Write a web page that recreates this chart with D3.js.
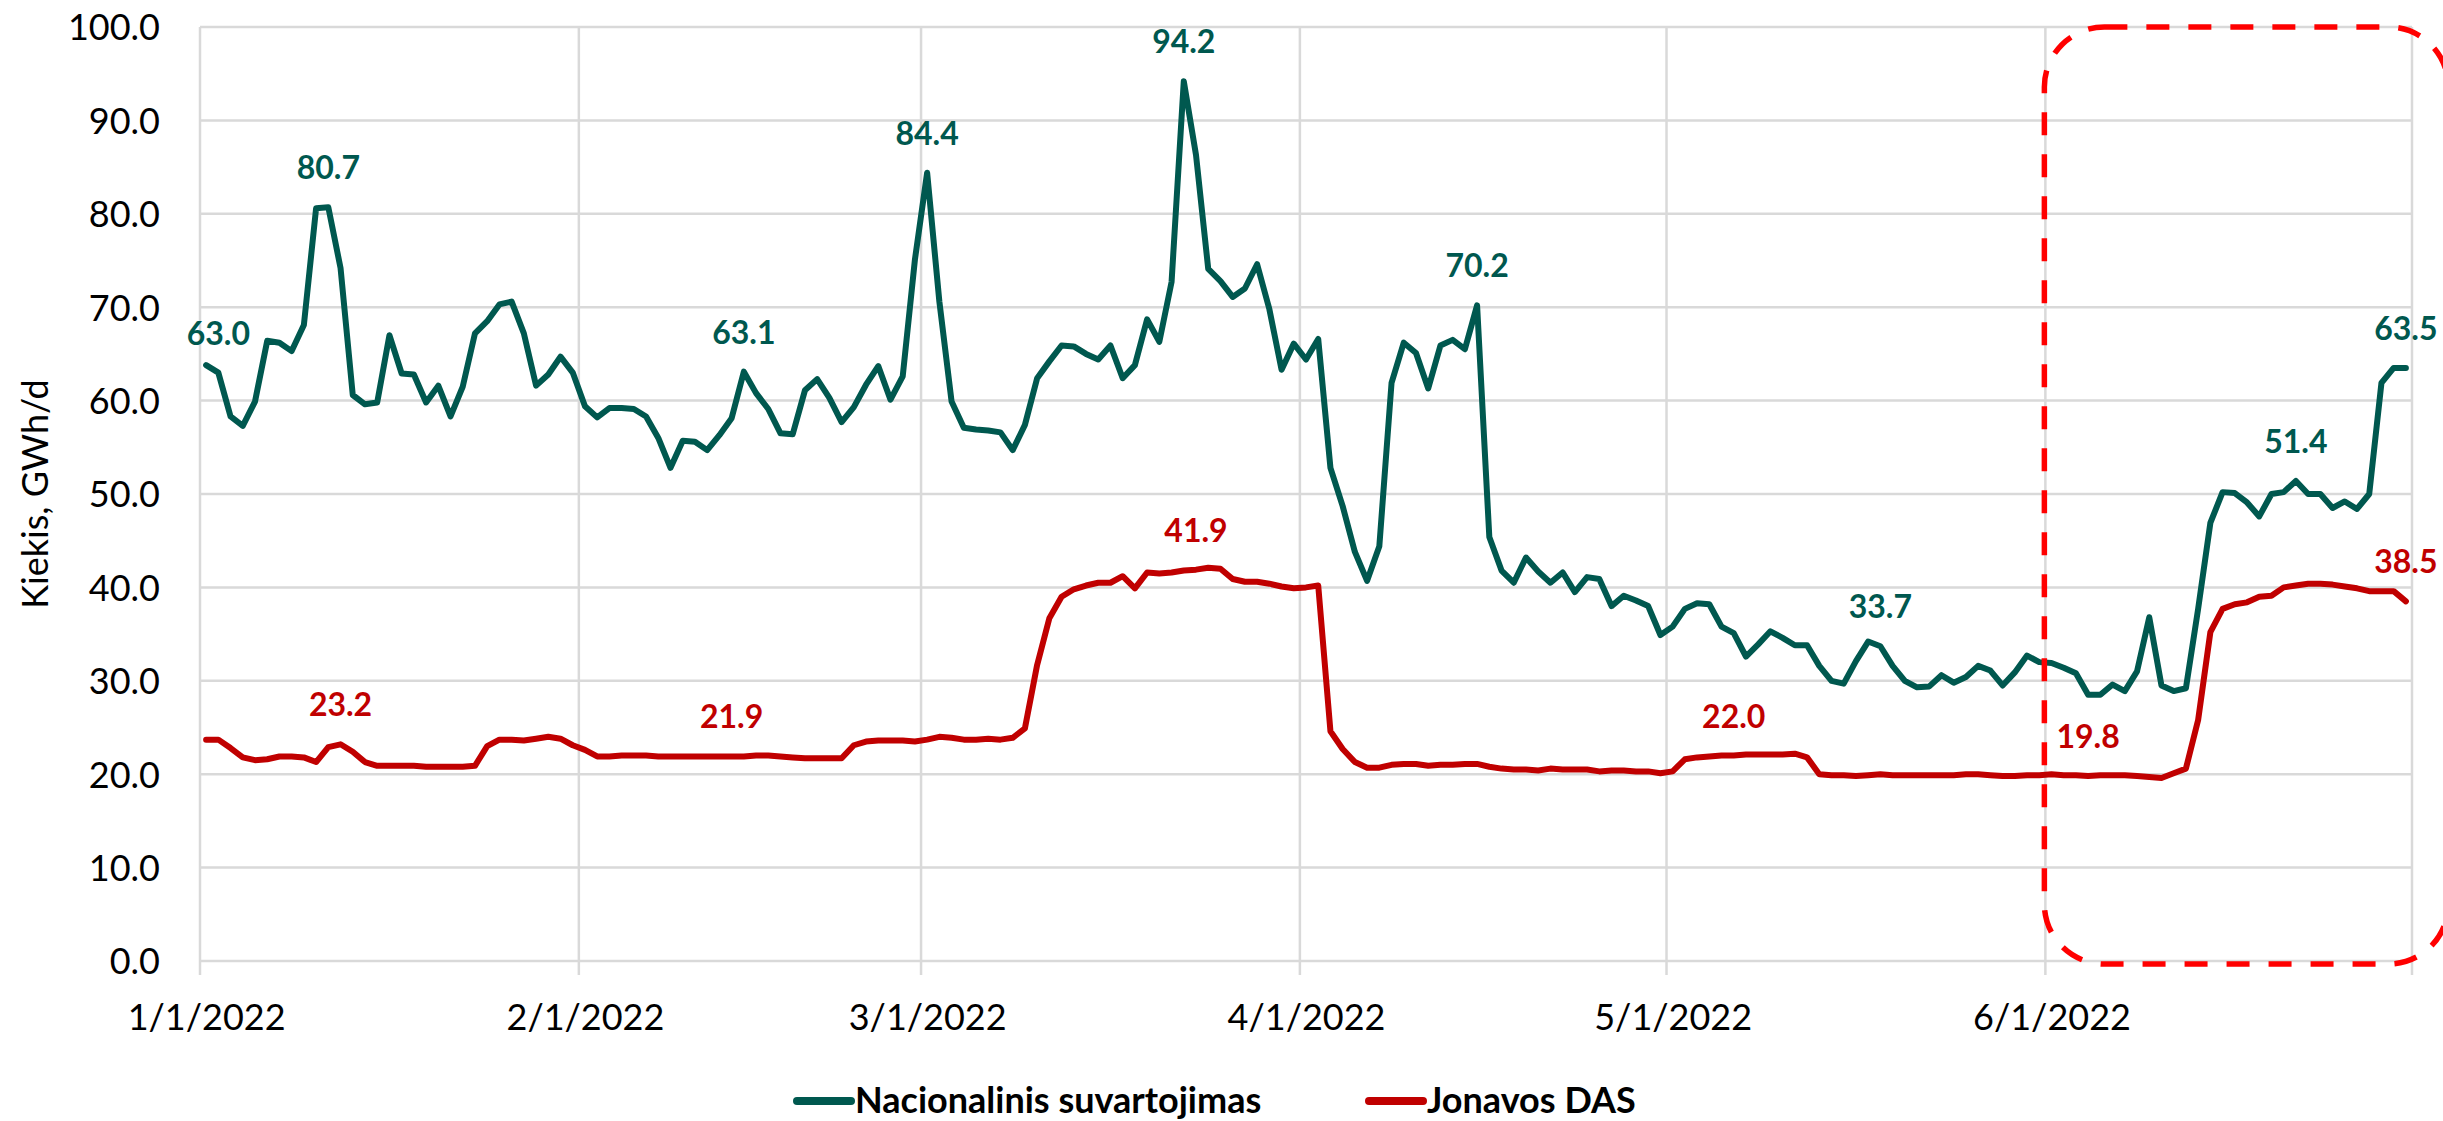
<!DOCTYPE html>
<html>
<head>
<meta charset="utf-8">
<script src="https://cdn.jsdelivr.net/npm/d3@7"></script>
<style>
body { margin: 0; background: #fff; }
text { font-family: Lato, "Open Sans", sans-serif; }
</style>
</head>
<body>
<svg id="chart" width="2443" height="1121"></svg>
<script>
// daily values, 2022-01-01 .. 2022-06-30
var firstDay = "2022-01-01";
var lastDay = "2022-07-01";

var nacionalinis = [
    63.8, 63.0, 58.3, 57.3, 59.9, 66.4, 66.2, 65.3, 68.1, 80.6, 80.7, 74.2, 60.6, 59.6, 59.8, 67.0,
    62.9, 62.8, 59.8, 61.6, 58.3, 61.5, 67.2, 68.5, 70.3, 70.6, 67.2, 61.6, 62.8, 64.7, 63.0,
    59.4, 58.2, 59.2, 59.2, 59.1, 58.3, 56.0, 52.8, 55.7, 55.6, 54.7, 56.3, 58.1, 63.1, 60.8,
    59.1, 56.5, 56.4, 61.1, 62.3, 60.3, 57.7, 59.3, 61.7, 63.7, 60.1, 62.6, 75.1,
    84.4, 70.6, 59.9, 57.1, 56.9, 56.8, 56.6, 54.7, 57.4, 62.4, 64.2, 65.9, 65.8, 65.0, 64.4,
    65.9, 62.4, 63.8, 68.7, 66.3, 72.7, 94.2, 86.3, 74.1, 72.8, 71.1, 72.0, 74.6, 69.8, 63.3, 66.1,
    64.4, 66.6, 52.8, 48.7, 43.8, 40.7, 44.4, 61.9, 66.2, 65.1, 61.3, 65.9, 66.5, 65.5, 70.2,
    45.4, 41.8, 40.5, 43.2, 41.7, 40.5, 41.6, 39.5, 41.1, 40.9, 38.0, 39.1, 38.6, 38.0, 34.9,
    35.8, 37.7, 38.3, 38.2, 35.8, 35.1, 32.6, 33.9, 35.3, 34.6, 33.8, 33.8, 31.6, 30.0, 29.7,
    32.1, 34.2, 33.7, 31.6, 30.0, 29.3, 29.4, 30.6, 29.8, 30.4, 31.6, 31.1, 29.5, 30.9, 32.7, 32.0,
    31.9, 31.4, 30.8, 28.5, 28.5, 29.6, 28.9, 31.0, 36.8, 29.5, 28.9, 29.2, 37.7, 46.9, 50.2,
    50.1, 49.1, 47.6, 50.0, 50.2, 51.4, 50.0, 50.0, 48.5, 49.2, 48.4, 50.0, 61.9, 63.5, 63.5
];

var jonavos = [
    23.7, 23.7, 22.8, 21.8, 21.5, 21.6, 21.9, 21.9, 21.8, 21.3, 22.9, 23.2, 22.4, 21.3, 20.9, 20.9,
    20.9, 20.9, 20.8, 20.8, 20.8, 20.8, 20.9, 23.0, 23.7, 23.7, 23.6, 23.8, 24.0, 23.8, 23.1,
    22.6, 21.9, 21.9, 22.0, 22.0, 22.0, 21.9, 21.9, 21.9, 21.9, 21.9, 21.9, 21.9, 21.9, 22.0,
    22.0, 21.9, 21.8, 21.7, 21.7, 21.7, 21.7, 23.1, 23.5, 23.6, 23.6, 23.6, 23.5,
    23.7, 24.0, 23.9, 23.7, 23.7, 23.8, 23.7, 23.9, 24.9, 31.7, 36.7, 39.0, 39.8, 40.2, 40.5,
    40.5, 41.2, 39.9, 41.6, 41.5, 41.6, 41.8, 41.9, 42.1, 42.0, 40.9, 40.6, 40.6, 40.4, 40.1, 39.9,
    40.0, 40.2, 24.6, 22.7, 21.3, 20.7, 20.7, 21.0, 21.1, 21.1, 20.9, 21.0, 21.0, 21.1, 21.1,
    20.8, 20.6, 20.5, 20.5, 20.4, 20.6, 20.5, 20.5, 20.5, 20.3, 20.4, 20.4, 20.3, 20.3, 20.1,
    20.3, 21.6, 21.8, 21.9, 22.0, 22.0, 22.1, 22.1, 22.1, 22.1, 22.2, 21.8, 20.0, 19.9, 19.9,
    19.8, 19.9, 20.0, 19.9, 19.9, 19.9, 19.9, 19.9, 19.9, 20.0, 20.0, 19.9, 19.8, 19.8, 19.9, 19.9,
    20.0, 19.9, 19.9, 19.8, 19.9, 19.9, 19.9, 19.8, 19.7, 19.6, 20.1, 20.6, 25.8, 35.2, 37.7,
    38.2, 38.4, 39.0, 39.1, 40.0, 40.2, 40.4, 40.4, 40.3, 40.1, 39.9, 39.6, 39.6, 39.6, 38.5
];

// day indexes that carry a data label
var nacionalinisLabels = [1, 10, 44, 59, 80, 104, 137, 171, 180];
var jonavosLabels = [11, 43, 81, 125, 154, 180];

var monthStarts = ["2022-01-01", "2022-02-01", "2022-03-01", "2022-04-01", "2022-05-01", "2022-06-01", "2022-07-01"];
var xTickLabels = ["2022-01-01", "2022-02-01", "2022-03-01", "2022-04-01", "2022-05-01", "2022-06-01"];
var yTicks = [0, 10, 20, 30, 40, 50, 60, 70, 80, 90, 100];
var highlightFrom = "2022-06-01";

var seriesNames = ["Nacionalinis suvartojimas", "Jonavos DAS"];
var seriesColors = ["#00584f", "#c00000"];

var parse = d3.utcParse("%Y-%m-%d");
var start = parse(firstDay);
function dayCenter(i) {
    return d3.utcHour.offset(d3.utcDay.offset(start, i), 12);
}

var plotLeft = 200, plotRight = 2412, plotTop = 27, plotBottom = 961;

var svg = d3.select("#chart");

var x = d3.scaleUtc()
    .domain([start, parse(lastDay)])
    .range([plotLeft, plotRight]);
var y = d3.scaleLinear()
    .domain([0, 100])
    .range([plotBottom, plotTop]);

// grid
var grid = svg.append("g").attr("class", "grid");
grid.selectAll("line.h")
    .data(yTicks)
    .enter().append("line")
    .attr("class", "h")
    .attr("x1", plotLeft).attr("x2", plotRight)
    .attr("y1", function (d) { return y(d); })
    .attr("y2", function (d) { return y(d); })
    .style("stroke", "#d9d9d9")
    .style("stroke-width", 2.5);
grid.selectAll("line.v")
    .data(monthStarts)
    .enter().append("line")
    .attr("class", "v")
    .attr("x1", function (d) { return x(parse(d)); })
    .attr("x2", function (d) { return x(parse(d)); })
    .attr("y1", plotTop).attr("y2", plotBottom + 14)
    .style("stroke", "#d9d9d9")
    .style("stroke-width", 2.5);

// axes (labels only)
var yAxis = svg.append("g")
    .attr("transform", "translate(" + plotLeft + ",0)")
    .call(d3.axisLeft(y).tickValues(yTicks).tickFormat(d3.format(".1f")).tickSize(0).tickPadding(40));
yAxis.select(".domain").remove();
yAxis.selectAll("text")
    .attr("dy", "0.36em")
    .style("font-size", "36px")
    .style("font-family", "Lato, sans-serif")
    .style("fill", "#000");

var xAxis = svg.append("g")
    .attr("transform", "translate(0," + plotBottom + ")")
    .call(d3.axisBottom(x)
        .tickValues(xTickLabels.map(function (d) { return d3.utcHour.offset(parse(d), 12); }))
        .tickFormat(d3.utcFormat("%-m/%-d/%Y"))
        .tickSize(0));
xAxis.select(".domain").remove();
xAxis.selectAll("text")
    .attr("y", 69)
    .attr("dy", null)
    .style("font-size", "36px")
    .style("font-family", "Lato, sans-serif")
    .style("fill", "#000");

svg.append("text")
    .attr("transform", "translate(34," + ((plotTop + plotBottom) / 2) + ") rotate(-90)")
    .attr("text-anchor", "middle")
    .attr("dominant-baseline", "central")
    .style("font-size", "36px")
    .style("fill", "#000")
    .text("Kiekis, GWh/d");

// series
var line = d3.line()
    .x(function (d, i) { return x(dayCenter(i)); })
    .y(function (d) { return y(d); });

var series = [
    { values: nacionalinis, labels: nacionalinisLabels, color: seriesColors[0] },
    { values: jonavos, labels: jonavosLabels, color: seriesColors[1] }
];

series.forEach(function (s) {
    svg.append("path")
        .datum(s.values)
        .attr("d", line)
        .style("fill", "none")
        .style("stroke", s.color)
        .style("stroke-width", 6)
        .style("stroke-linejoin", "round")
        .style("stroke-linecap", "round");

    svg.append("g").selectAll("text")
        .data(s.labels)
        .enter().append("text")
        .attr("x", function (i) { return x(dayCenter(i)); })
        .attr("y", function (i) { return y(s.values[i]) - 28; })
        .attr("text-anchor", "middle")
        .style("font-size", "32px")
        .style("font-weight", "bold")
        .style("fill", s.color)
        .text(function (i) { return d3.format(".1f")(s.values[i]); });
});

// highlight box over June (its right side runs just past the picture edge)
svg.append("rect")
    .attr("x", x(parse(highlightFrom)) - 1)
    .attr("y", y(100))
    .attr("width", 404)
    .attr("height", y(0) - y(100) + 3)
    .attr("rx", 60)
    .attr("ry", 60)
    .style("fill", "none")
    .style("stroke", "#ff0000")
    .style("stroke-width", 5.5)
    .style("stroke-dasharray", "23 19");

// legend
var legendX = [797, 1369];
var legend = svg.append("g");
seriesNames.forEach(function (name, k) {
    legend.append("line")
        .attr("x1", legendX[k]).attr("x2", legendX[k] + 54)
        .attr("y1", 1101).attr("y2", 1101)
        .style("stroke", seriesColors[k])
        .style("stroke-width", 8)
        .style("stroke-linecap", "round");
    legend.append("text")
        .attr("x", legendX[k] + 58)
        .attr("y", 1113)
        .style("font-size", "36px")
        .style("font-weight", "bold")
        .style("fill", "#000")
        .text(name);
});
</script>
</body>
</html>
